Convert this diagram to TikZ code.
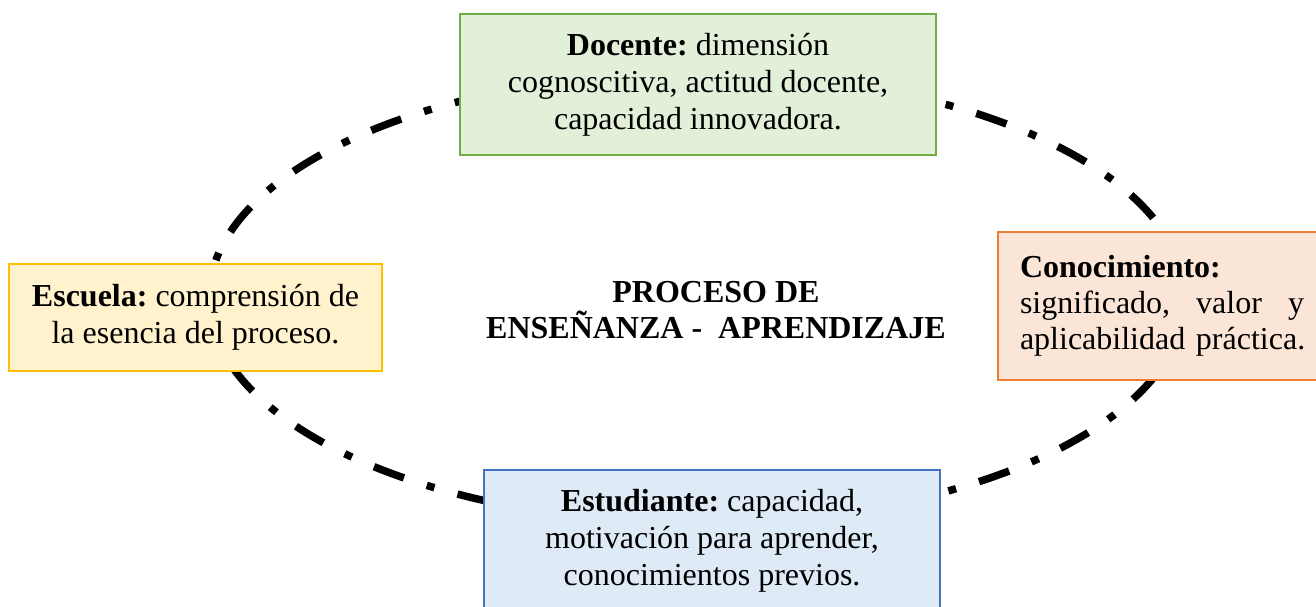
\documentclass[tikz,border=0pt]{standalone}
\usepackage{fontspec}
\setmainfont{Liberation Serif}
\frenchspacing
\definecolor{gborder}{HTML}{70AD47}
\definecolor{gfill}{HTML}{E2F0D9}
\definecolor{yborder}{HTML}{FFC000}
\definecolor{yfill}{HTML}{FFF2CC}
\definecolor{oborder}{HTML}{ED7D31}
\definecolor{ofill}{HTML}{FBE5D6}
\definecolor{bborder}{HTML}{4472C4}
\definecolor{bfill}{HTML}{DEEBF7}
\tikzset{
  box/.style={draw, line width=2.5pt, inner sep=0pt, align=center,
    font=\fontsize{32pt}{37pt}\selectfont\frenchspacing},
  ring/.style={line width=7.5pt, dash pattern=on 32pt off 24pt on 8pt off 24pt}
}
\begin{document}
\begin{tikzpicture}[x=1pt,y=-1pt]
\useasboundingbox (0,0) rectangle (1316,607);
\fill[white] (0,0) rectangle (1316,607);
\draw[ring] (697,298) ellipse [x radius=488pt, y radius=225pt];
\node[box, draw=gborder, fill=gfill, minimum width=476pt, minimum height=141pt] (doc) at (698,84.5)
  {\textbf{Docente:} dimensión\\cognoscitiva, actitud docente,\\capacidad innovadora.};
\node[box, draw=yborder, fill=yfill, minimum width=373pt, minimum height=107pt] (esc) at (195.5,317.5)
  {\textbf{Escuela:} comprensión de\\la esencia del proceso.};
\node[box, draw=oborder, fill=ofill, minimum width=334pt, minimum height=148pt, text width=290pt, align=left,
  font=\fontsize{32pt}{36pt}\selectfont\frenchspacing] (con) at (1165,306)
  {\textbf{Conocimiento:}\\\makebox[284pt][l]{significado,\hfill valor\hfill y}\\aplicabilidad práctica.};
\node[box, draw=bborder, fill=bfill, minimum width=456pt, minimum height=141pt] (est) at (712,540.5)
  {\textbf{Estudiante:} capacidad,\\motivación para aprender,\\conocimientos previos.};
\node[font=\fontsize{32pt}{36pt}\selectfont\bfseries, align=center] (title) at (716,310)
  {PROCESO DE\\ENSEÑANZA -\ \ APRENDIZAJE};
\end{tikzpicture}
\end{document}
